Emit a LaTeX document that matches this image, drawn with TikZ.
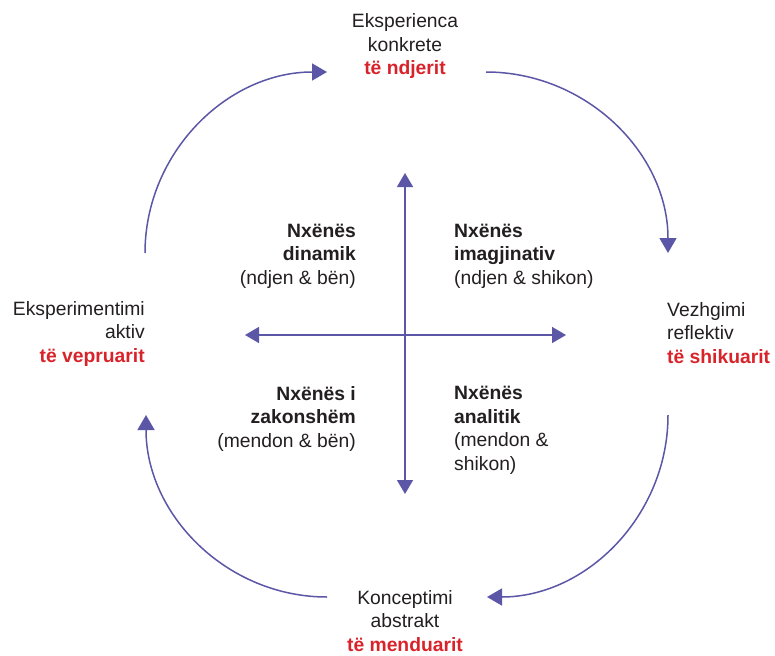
\documentclass[tikz,border=0pt]{standalone}
\usepackage{fontspec}
\setmainfont{Liberation Sans}
\usetikzlibrary{arrows.meta}
\definecolor{ink}{HTML}{231F20}
\definecolor{accent}{HTML}{D8232A}
\definecolor{flow}{HTML}{5B57A6}
\tikzset{stage/.style={inner sep=0pt,text=ink,font=\fontsize{19.3}{23.5}\selectfont},quad/.style={stage},turn/.style={-{Triangle[length=15pt,width=17pt]},draw=flow,line width=1.5pt},cross/.style={turn,{Triangle[length=14pt,width=16pt]}-{Triangle[length=14pt,width=16pt]}}}
\begin{document}
\begin{tikzpicture}[x=1pt,y=-1pt]
\useasboundingbox (0,0) rectangle (775,655);
\node[stage,anchor=base,align=center] (concrete) at (405,75) {Eksperienca\\konkrete\\\textcolor{accent}{\bfseries të ndjerit}};\node[stage,anchor=base west,align=left] (reflective) at (667,363) {Vezhgimi\\reflektiv\\\textcolor{accent}{\bfseries të shikuarit}};\node[stage,anchor=base,align=center] (abstract) at (405,651) {Konceptimi\\abstrakt\\\textcolor{accent}{\bfseries të menduarit}};\node[stage,anchor=base east,align=right] (active) at (145,362) {Eksperimentimi\\aktiv\\\textcolor{accent}{\bfseries të vepruarit}};
\node[quad,anchor=base east,align=right] (dynamic) at (356,284) {\textbf{Nxënës}\\\textbf{dinamik}\\(ndjen \& bën)};\node[quad,anchor=base west,align=left] (imaginative) at (454,284) {\textbf{Nxënës}\\\textbf{imagjinativ}\\(ndjen \& shikon)};\node[quad,anchor=base east,align=right] (common) at (356,447) {\textbf{Nxënës i}\\\textbf{zakonshëm}\\(mendon \& bën)};\node[quad,anchor=base west,align=left] (analytic) at (454,470) {\textbf{Nxënës}\\\textbf{analitik}\\(mendon \&\\shikon)};
% axes
\coordinate (up) at (405,173);\coordinate (down) at (405,494);\coordinate (left) at (245,335);\coordinate (right) at (566,335);
\draw[cross] (down) -- (up);\draw[cross] (left) -- (right);
% learning cycle
\coordinate (c1) at (145,253);\coordinate (c2) at (327,72);\coordinate (c3) at (486,72);\coordinate (c4) at (668,253);\coordinate (c5) at (668,415);\coordinate (c6) at (487,597);\coordinate (c7) at (327,597);\coordinate (c8) at (146,415);
\draw[turn] (c1) .. controls (145,153) and (227,72) .. (c2);\draw[turn] (c3) .. controls (586,72) and (668,153) .. (c4);\draw[turn] (c5) .. controls (668,515) and (587,597) .. (c6);\draw[turn] (c7) .. controls (227,597) and (146,515) .. (c8);
\end{tikzpicture}
\end{document}
